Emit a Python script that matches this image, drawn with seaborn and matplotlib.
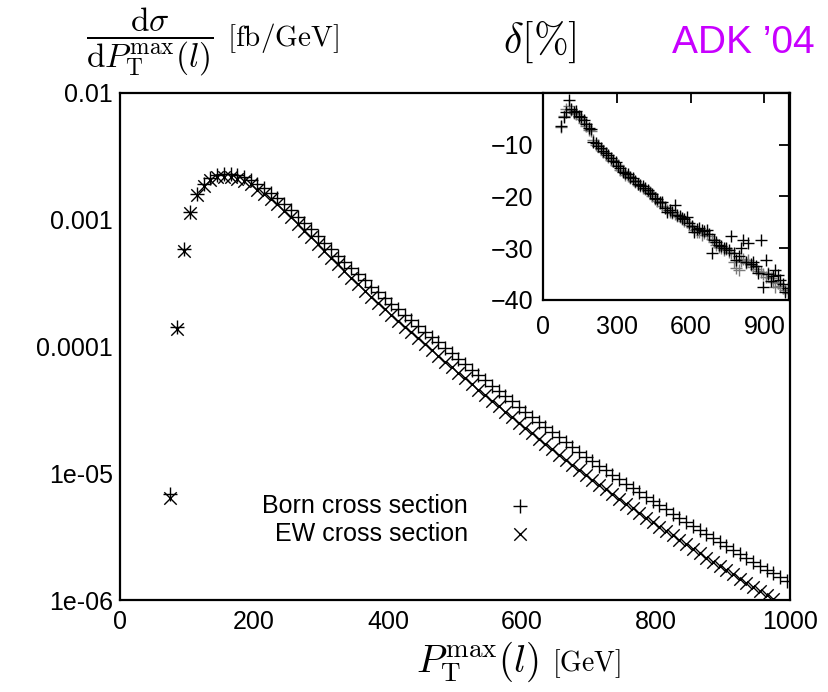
import numpy as np
import matplotlib
matplotlib.use("Agg")
import matplotlib.pyplot as plt
import seaborn as sns
from matplotlib.ticker import FixedLocator, MultipleLocator, NullFormatter, LogLocator

# ---------------- data ----------------
# bin centres of P_T^max(l) in GeV (10 GeV bins from 70 to 1000)
pt_max = np.arange(75, 1000, 10)

# Born cross section dsigma/dPT [fb/GeV]
born = [
    6.86e-6, 1.43e-4, 5.88e-4, 1.15e-3, 1.60e-3, 1.91e-3, 2.13e-3, 2.25e-3, 2.30e-3, 2.30e-3,
    2.25e-3, 2.17e-3, 2.06e-3, 1.91e-3, 1.78e-3, 1.62e-3, 1.48e-3, 1.33e-3, 1.19e-3, 1.06e-3,
    9.43e-4, 8.38e-4, 7.44e-4, 6.61e-4, 5.88e-4, 5.22e-4, 4.64e-4, 4.13e-4, 3.70e-4, 3.32e-4,
    2.97e-4, 2.68e-4, 2.42e-4, 2.18e-4, 1.97e-4, 1.78e-4, 1.61e-4, 1.45e-4, 1.31e-4, 1.19e-4,
    1.08e-4, 9.73e-5, 8.82e-5, 8.00e-5, 7.25e-5, 6.57e-5, 5.96e-5, 5.41e-5, 4.91e-5, 4.46e-5,
    4.05e-5, 3.69e-5, 3.36e-5, 3.05e-5, 2.78e-5, 2.53e-5, 2.31e-5, 2.10e-5, 1.92e-5, 1.76e-5,
    1.61e-5, 1.47e-5, 1.35e-5, 1.25e-5, 1.15e-5, 1.06e-5, 9.74e-6, 8.99e-6, 8.30e-6, 7.66e-6,
    7.07e-6, 6.54e-6, 6.05e-6, 5.60e-6, 5.19e-6, 4.81e-6, 4.45e-6, 4.13e-6, 3.83e-6, 3.55e-6,
    3.30e-6, 3.07e-6, 2.85e-6, 2.65e-6, 2.47e-6, 2.30e-6, 2.15e-6, 2.00e-6, 1.86e-6, 1.74e-6,
    1.62e-6, 1.52e-6, 1.42e-6,
]

# EW corrected cross section [fb/GeV]
ew = [
    6.41e-6, 1.37e-4, 5.70e-4, 1.13e-3, 1.56e-3, 1.85e-3, 2.05e-3, 2.16e-3, 2.19e-3, 2.17e-3,
    2.11e-3, 2.02e-3, 1.90e-3, 1.73e-3, 1.61e-3, 1.45e-3, 1.32e-3, 1.18e-3, 1.05e-3, 9.30e-4,
    8.22e-4, 7.27e-4, 6.41e-4, 5.67e-4, 5.02e-4, 4.44e-4, 3.93e-4, 3.48e-4, 3.10e-4, 2.76e-4,
    2.46e-4, 2.20e-4, 1.98e-4, 1.77e-4, 1.60e-4, 1.43e-4, 1.29e-4, 1.16e-4, 1.04e-4, 9.40e-5,
    8.49e-5, 7.61e-5, 6.86e-5, 6.20e-5, 5.60e-5, 5.05e-5, 4.57e-5, 4.13e-5, 3.73e-5, 3.38e-5,
    3.05e-5, 2.77e-5, 2.51e-5, 2.27e-5, 2.06e-5, 1.86e-5, 1.70e-5, 1.54e-5, 1.40e-5, 1.28e-5,
    1.16e-5, 1.06e-5, 9.64e-6, 8.88e-6, 8.13e-6, 7.46e-6, 6.83e-6, 6.28e-6, 5.77e-6, 5.30e-6,
    4.86e-6, 4.47e-6, 4.11e-6, 3.79e-6, 3.50e-6, 3.23e-6, 2.97e-6, 2.75e-6, 2.54e-6, 2.34e-6,
    2.16e-6, 2.00e-6, 1.85e-6, 1.71e-6, 1.59e-6, 1.47e-6, 1.37e-6, 1.27e-6, 1.18e-6, 1.09e-6,
    1.01e-6, 9.47e-7, 8.80e-7,
]

# relative correction delta [%] (inset), two overlaid sets
delta_black = [
    -6.3, -4.6, -3.6, -1.3, -3.0, -3.6, -3.5, -4.4, -4.6, -5.2,
    -6.0, -6.8, -7.0, -9.4, -9.7, -10.3, -10.6, -11.2, -11.6, -12.0,
    -12.6, -13.2, -13.4, -14.2, -14.5, -15.2, -15.5, -15.7, -16.2, -16.4,
    -17.0, -17.6, -17.7, -18.0, -18.3, -18.7, -19.4, -19.6, -20.3, -20.5,
    -21.1, -21.0, -22.2, -22.9, -22.6, -22.9, -21.6, -23.5, -23.8, -24.2,
    -24.4, -23.9, -25.2, -25.7, -26.8, -26.3, -26.1, -26.5, -26.6, -26.4,
    -27.2, -30.9, -28.5, -28.7, -29.4, -29.6, -29.9, -30.0, -30.4, -27.7,
    -31.0, -32.2, -31.5, -30.0, -28.4, -32.6, -29.0, -33.0, -32.6, -33.4,
    -34.8, -28.4, -37.4, -32.2, -35.0, -36.4, -35.4, -34.2, -35.1, -36.2,
    -37.0, -38.4, -37.6,
]
delta_gray = [
    -6.6, -4.5, -3.0, -2.6, -3.3, -3.8, -4.0, -4.6, -5.0, -5.8,
    -6.4, -7.1, -7.4, -9.1, -10.0, -10.1, -10.8, -11.4, -11.9, -12.3,
    -12.9, -13.0, -13.9, -14.0, -14.8, -15.0, -15.8, -16.0, -16.5, -16.9,
    -17.2, -17.5, -18.0, -18.4, -18.6, -19.0, -19.2, -20.0, -20.4, -20.9,
    -21.3, -21.8, -22.0, -22.6, -23.0, -23.2, -23.4, -23.8, -24.0, -24.4,
    -24.8, -25.0, -25.6, -25.9, -26.4, -26.9, -26.8, -27.4, -27.0, -27.2,
    -27.6, -28.2, -28.8, -29.3, -29.7, -30.0, -30.3, -30.1, -30.8, -31.0,
    -32.6, -33.8, -34.2, -32.4, -32.0, -32.9, -32.3, -33.2, -33.6, -34.0,
    -34.4, -34.6, -35.0, -35.6, -34.8, -35.8, -36.6, -37.4, -36.8, -37.2,
    -37.6, -38.0, -38.6,
]

main_yticks = [1e-6, 1e-5, 1e-4, 1e-3, 1e-2]
main_ytick_labels = ["1e-06", "1e-05", "0.0001", "0.001", "0.01"]
main_xticks = [0, 200, 400, 600, 800, 1000]
inset_xticks = [0, 300, 600, 900]
inset_yticks = [-40, -30, -20, -10]

# ---------------- style ----------------
sns.set_theme(style="white")
plt.rcParams["font.family"] = ["Liberation Sans", "DejaVu Sans"]
plt.rcParams["mathtext.fontset"] = "cm"
plt.rcParams["text.color"] = "black"
plt.rcParams["axes.labelcolor"] = "black"
plt.rcParams["xtick.color"] = "black"
plt.rcParams["ytick.color"] = "black"

fig = plt.figure(figsize=(8.29, 6.92), dpi=100)

# ---------------- main panel ----------------
ax = fig.add_axes([120 / 829, 1 - 600 / 692, 670 / 829, 507 / 692])
born_arr = np.array(born)
ew_arr = np.array(ew)
mask = ew_arr >= 1e-6

sns.scatterplot(x=pt_max, y=born_arr, marker="+", color="black", s=90,
                linewidth=1.0, ax=ax, label="Born cross section", zorder=3)
sns.scatterplot(x=pt_max[mask], y=ew_arr[mask], marker="x", color="black", s=80,
                linewidth=1.0, ax=ax, label="EW cross section", zorder=3)

ax.set_yscale("log")
ax.set_xlim(0, 1000)
ax.set_ylim(1e-6, 1e-2)
ax.yaxis.set_major_locator(FixedLocator(main_yticks))
ax.set_yticklabels(main_ytick_labels)
ax.yaxis.set_minor_locator(LogLocator(base=10, subs=[2, 4, 6, 8]))
ax.yaxis.set_minor_formatter(NullFormatter())
ax.xaxis.set_major_locator(FixedLocator(main_xticks))
ax.xaxis.set_minor_locator(MultipleLocator(40))
ax.set_xlabel("")
ax.set_ylabel("")
ax.tick_params(which="both", direction="in", top=False, right=False,
               labelsize=18, colors="black", width=1.3)
ax.tick_params(which="major", length=9)
ax.tick_params(axis="x", which="major", pad=7)
ax.tick_params(axis="y", which="major", pad=5)
ax.tick_params(which="minor", length=4.5)
for sp in ax.spines.values():
    sp.set_linewidth(1.6)
    sp.set_color("black")

leg = ax.legend(loc="upper right", bbox_to_anchor=(0.616, 0.210), frameon=False,
                markerfirst=False, fontsize=18, handlelength=1.0, handletextpad=1.6,
                labelspacing=0.16, borderpad=0, borderaxespad=0, alignment="right")
for t in leg.get_texts():
    t.set_color("black")

# ---------------- inset ----------------
axi = fig.add_axes([543 / 829, 1 - 300 / 692, 246 / 829, 207 / 692])
axi.set_zorder(5)
axi.set_facecolor("white")
sns.scatterplot(x=pt_max, y=delta_gray, marker="+", color="#7a7a7a", s=75,
                linewidth=1.0, ax=axi, legend=False)
sns.scatterplot(x=pt_max, y=delta_black, marker="+", color="black", s=75,
                linewidth=1.0, ax=axi, legend=False)
axi.set_xlim(0, 1000)
axi.set_ylim(-40, 0)
axi.xaxis.set_major_locator(FixedLocator(inset_xticks))
axi.yaxis.set_major_locator(FixedLocator(inset_yticks))
axi.set_xlabel("")
axi.set_ylabel("")
axi.tick_params(which="major", direction="in", top=True, right=True, length=7,
                width=1.3, labelsize=18, colors="black")
axi.tick_params(axis="x", pad=11)
axi.tick_params(axis="y", pad=7)
for sp in axi.spines.values():
    sp.set_linewidth(1.6)
    sp.set_color("black")

# ---------------- titles / labels ----------------
fig.text(150 / 829, 1 - 42 / 692,
         r"$\dfrac{\mathrm{d}\sigma}{\mathrm{d}P_{\mathrm{T}}^{\mathrm{max}}(l)}$",
         ha="center", va="center", fontsize=24)
fig.text(227 / 829, 1 - 38 / 692, r"$[\mathrm{fb/GeV}]$", ha="left", va="center",
         fontsize=21)
fig.text(540 / 829, 1 - 42 / 692, r"$\delta[\%]$", ha="center", va="center",
         fontsize=30)
fig.text(815 / 829, 1 - 43 / 692, "ADK ’04", ha="right", va="center",
         color="#c800ff", fontsize=28)
fig.text(477 / 829, 1 - 662 / 692, r"$P_{\mathrm{T}}^{\mathrm{max}}(l)$",
         ha="center", va="center", fontsize=28)
fig.text(552 / 829, 1 - 664 / 692, r"$[\mathrm{GeV}]$", ha="left", va="center",
         fontsize=20)

fig.savefig("out.png", dpi=100, facecolor="white")
